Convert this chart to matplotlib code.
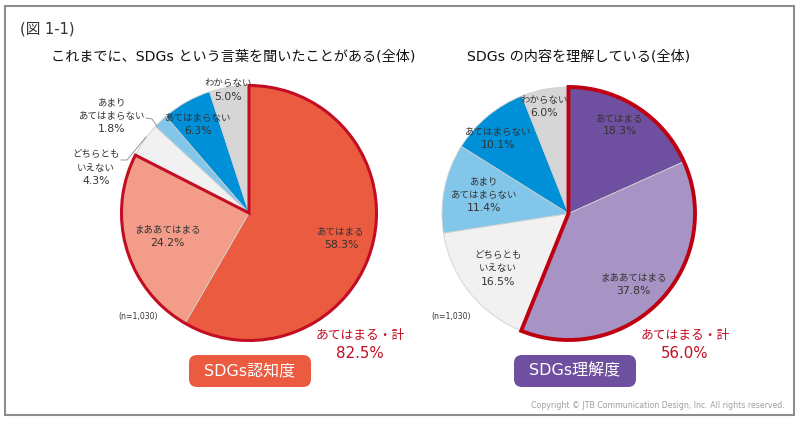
import matplotlib
matplotlib.use("Agg")
import matplotlib.pyplot as plt
from matplotlib.patches import FancyBboxPatch, Rectangle

plt.rcParams['font.family'] = ['DejaVu Sans', 'Noto Sans CJK JP']

# values, clockwise from 12 o'clock
left_values = [58.3, 24.2, 4.3, 1.8, 6.3, 5.0]
left_colors = ['#EA5B3F', '#F29C89', '#F1F1F1', '#82C6EA', '#0090D8', '#D6D6D6']
left_labels = ['あてはまる\n58.3%', 'まああてはまる\n24.2%', 'どちらとも\nいえない\n4.3%',
               'あまり\nあてはまらない\n1.8%', 'あてはまらない\n6.3%', 'わからない\n5.0%']

right_values = [18.3, 37.8, 16.5, 11.4, 10.1, 6.0]
right_colors = ['#6F4F9F', '#A794C4', '#F1F1F1', '#82C6EA', '#0090D8', '#D6D6D6']
right_labels = ['あてはまる\n18.3%', 'まああてはまる\n37.8%', 'どちらとも\nいえない\n16.5%',
                'あまり\nあてはまらない\n11.4%', 'あてはまらない\n10.1%', 'わからない\n6.0%']

RED = '#C30D23'
TXT = '#333333'

fig = plt.figure(figsize=(8, 4.22), dpi=100)
ax = fig.add_axes([0, 0, 1, 1])


def Y(py):
    return 422 - py


def draw_pie(values, colors, cx, cy, r, n_top, edge, lw):
    ax.pie(values, colors=colors, startangle=90, counterclock=False, center=(cx, Y(cy)),
           radius=r, frame=True, wedgeprops={'edgecolor': '#D0D0D0', 'linewidth': 0.6})
    # red outline around the "あてはまる" + "まああてはまる" part
    top = sum(values[:n_top])
    w, _ = ax.pie([top, 100 - top], colors=['none', 'none'], startangle=90, counterclock=False,
                  center=(cx, Y(cy)), radius=r, frame=True)
    w[0].set_edgecolor(edge)
    w[0].set_linewidth(lw)
    w[0].set_joinstyle('miter')
    w[1].set_edgecolor('none')


def draw_label(lab, x, y):
    # percent line is set a bit larger than the words above it
    lines = lab.split('\n')
    for i, line in enumerate(lines):
        size = 7.8 if i == len(lines) - 1 else 6.8
        ax.text(x, Y(y + (i - (len(lines) - 1) / 2) * 13), line, fontsize=size, color=TXT,
                ha='center', va='center')


draw_pie(left_values, left_colors, 249, 213, 127.5, 2, RED, 2.2)
draw_pie(right_values, right_colors, 568.5, 213.5, 126.5, 2, '#BE0010', 2.8)
ax.set_xlim(0, 800)
ax.set_ylim(0, 422)
ax.set_aspect('auto')
ax.axis('off')

# outer frame
ax.add_patch(Rectangle((5, Y(415)), 789, 409, fill=False, edgecolor='#8C8C8C', linewidth=1.5))

ax.text(20, Y(29), '(図 1-1)', fontsize=10.5, color='#333333', ha='left', va='center')
ax.text(233, Y(57), 'これまでに、SDGs という言葉を聞いたことがある(全体)', fontsize=10.2, color='#111111',
        ha='center', va='center')
ax.text(579, Y(57), 'SDGs の内容を理解している(全体)', fontsize=10.2, color='#111111',
        ha='center', va='center')

left_pos = [(341, 238), (167, 236), (96, 168), (112, 116), (198, 125), (228, 90)]
right_pos = [(620, 125), (633, 284), (498, 269), (484, 195), (498, 139), (544, 107)]
for lab, (x, y) in zip(left_labels, left_pos):
    draw_label(lab, x, y)
for lab, (x, y) in zip(right_labels, right_pos):
    draw_label(lab, x, y)

# leader lines for the small slices
ax.plot([146, 152, 157], [Y(118), Y(119), Y(126)], color='#888888', linewidth=0.6)
ax.plot([121, 127, 146], [Y(160), Y(160), Y(137)], color='#888888', linewidth=0.6)

ax.text(138, Y(316), '(n=1,030)', fontsize=5.6, color=TXT, ha='center', va='center')
ax.text(451, Y(316), '(n=1,030)', fontsize=5.6, color=TXT, ha='center', va='center')

ax.text(360, Y(336), 'あてはまる・計', fontsize=9.2, color=RED, ha='center', va='center')
ax.text(360, Y(354), '82.5%', fontsize=10.8, color=RED, ha='center', va='center')
ax.text(685, Y(336), 'あてはまる・計', fontsize=9.2, color=RED, ha='center', va='center')
ax.text(685, Y(354), '56.0%', fontsize=10.8, color=RED, ha='center', va='center')

for x0, col, lab in [(189, '#EA5B3F', 'SDGs認知度'), (514, '#6F4F9F', 'SDGs理解度')]:
    ax.add_patch(FancyBboxPatch((x0 + 7, Y(387) + 7), 122 - 14, 32 - 14,
                                boxstyle='round,pad=7,rounding_size=8', facecolor=col, edgecolor='none'))
    ax.text(x0 + 61, Y(371), lab, fontsize=11.5, color='white', ha='center', va='center')

ax.text(785, Y(405), 'Copyright © JTB Communication Design, Inc. All rights reserved.', fontsize=5.7,
        color='#A0A0A0', ha='right', va='center')

fig.savefig('out.png', dpi=100)
